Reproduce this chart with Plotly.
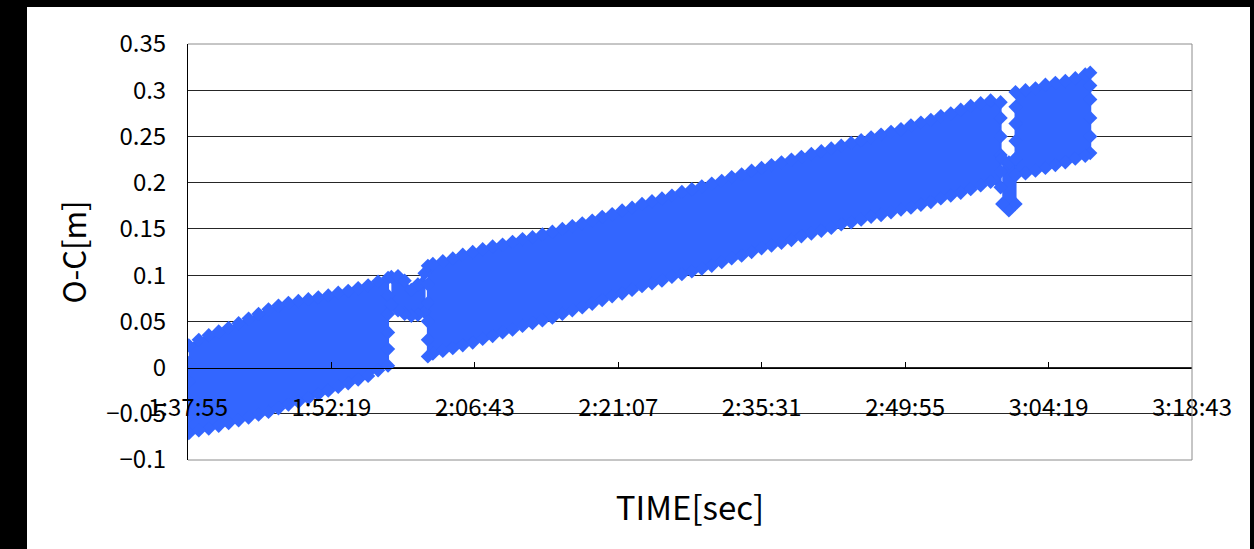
import plotly.graph_objects as go

# ---------------- data ----------------
x_tick_labels = ["1:37:55", "1:52:19", "2:06:43", "2:21:07", "2:35:31", "2:49:55", "3:04:19", "3:18:43"]
y_tick_values = [-0.1, -0.05, 0, 0.05, 0.1, 0.15, 0.2, 0.25, 0.3, 0.35]
y_tick_labels = ["\u22120.1", "\u22120.05", "0", "0.05", "0.1", "0.15", "0.2", "0.25", "0.3", "0.35"]

# band of O-C points: upper / lower edge of the point cloud at each time,
# plus the points seen along the start / end of each run (bottom -> top)
block1_time = ["1:38:00", "1:39:00", "1:40:00", "1:41:00", "1:42:00", "1:43:00", "1:44:00",
               "1:45:00", "1:46:00", "1:47:00", "1:48:00", "1:49:00", "1:50:00", "1:51:00",
               "1:52:00", "1:53:00", "1:54:00", "1:55:00", "1:56:00", "1:57:00", "1:58:00"]
block1_upper = [0.024, 0.030, 0.035, 0.039, 0.043, 0.048, 0.053, 0.058, 0.063, 0.067, 0.070,
                0.072, 0.074, 0.076, 0.078, 0.081, 0.083, 0.086, 0.089, 0.093, 0.097]
block1_lower = [-0.071, -0.068, -0.066, -0.063, -0.060, -0.057, -0.054, -0.051, -0.048, -0.044, -0.040,
                -0.037, -0.033, -0.029, -0.025, -0.021, -0.017, -0.013, -0.009, -0.003, 0.002]
block1_start = [-0.053, -0.035, -0.015, 0.005]
block1_end = [0.020, 0.038, 0.058, 0.078]

dip1_time = ["1:58:20", "1:59:00", "1:59:40", "2:00:20", "2:01:00", "2:01:40"]
dip1_upper = [0.098, 0.099, 0.094, 0.084, 0.090, 0.102]
dip1_lower = [0.068, 0.062, 0.058, 0.056, 0.057, 0.060]

block2_time = ["2:02:00", "2:02:30", "2:03:30", "2:04:30", "2:05:30", "2:06:30", "2:07:30", "2:08:30",
               "2:09:30", "2:10:30", "2:11:30", "2:12:30", "2:13:30", "2:14:30", "2:15:30", "2:16:30",
               "2:17:30", "2:18:30", "2:19:30", "2:20:30", "2:21:30", "2:22:30", "2:23:30", "2:24:30",
               "2:25:30", "2:26:30", "2:27:30", "2:28:30", "2:29:30", "2:30:30", "2:31:30", "2:32:30",
               "2:33:30", "2:34:30", "2:35:30", "2:36:30", "2:37:30", "2:38:30", "2:39:30", "2:40:30",
               "2:41:30", "2:42:30", "2:43:30", "2:44:30", "2:45:30", "2:46:30", "2:47:30", "2:48:30",
               "2:49:30", "2:50:30", "2:51:30", "2:52:30", "2:53:30", "2:54:30", "2:55:30", "2:56:30",
               "2:57:30", "2:58:30", "2:59:30"]
block2_upper = [0.110, 0.112, 0.115, 0.118, 0.122, 0.125, 0.128, 0.131, 0.133, 0.136, 0.139, 0.141,
                0.144, 0.147, 0.150, 0.153, 0.156, 0.159, 0.163, 0.166, 0.170, 0.173, 0.177, 0.180,
                0.183, 0.186, 0.190, 0.193, 0.196, 0.199, 0.202, 0.206, 0.209, 0.213, 0.216, 0.219,
                0.222, 0.225, 0.228, 0.231, 0.234, 0.237, 0.240, 0.243, 0.246, 0.249, 0.252, 0.255,
                0.258, 0.262, 0.265, 0.268, 0.272, 0.275, 0.279, 0.283, 0.286, 0.289, 0.287]
block2_lower = [0.012, 0.015, 0.018, 0.021, 0.024, 0.027, 0.031, 0.034, 0.038, 0.041, 0.045, 0.048,
                0.051, 0.054, 0.058, 0.062, 0.065, 0.069, 0.073, 0.077, 0.080, 0.084, 0.088, 0.091,
                0.094, 0.098, 0.101, 0.104, 0.107, 0.110, 0.114, 0.118, 0.121, 0.125, 0.129, 0.132,
                0.135, 0.138, 0.142, 0.145, 0.148, 0.151, 0.155, 0.157, 0.160, 0.163, 0.165, 0.168,
                0.171, 0.173, 0.176, 0.179, 0.183, 0.186, 0.189, 0.193, 0.197, 0.201, 0.195]
block2_start = [0.030, 0.050, 0.070, 0.090]
block2_end = [0.212, 0.230, 0.250, 0.270]

dip2_time = ["2:59:40", "3:00:20", "3:01:00"]
dip2_upper = [0.226, 0.222, 0.226]
dip2_lower = [0.177, 0.170, 0.177]

block3_time = ["3:01:00", "3:02:00", "3:03:00", "3:04:00", "3:05:00", "3:06:00", "3:07:00", "3:08:00", "3:08:30"]
block3_upper = [0.298, 0.300, 0.302, 0.306, 0.308, 0.310, 0.313, 0.317, 0.319]
block3_lower = [0.208, 0.210, 0.213, 0.216, 0.219, 0.222, 0.226, 0.229, 0.232]
block3_start = [0.226, 0.245, 0.264, 0.282]
block3_end = [0.250, 0.270, 0.290, 0.305]

# ---------------- helpers ----------------
def hms(s):
    h, m, sec = (int(v) for v in s.split(":"))
    return h * 3600 + m * 60 + sec

blocks = [
    (block1_time, block1_upper, block1_lower, block1_start, block1_end),
    (dip1_time, dip1_upper, dip1_lower, [], []),
    (block2_time, block2_upper, block2_lower, block2_start, block2_end),
    (dip2_time, dip2_upper, dip2_lower, [], []),
    (block3_time, block3_upper, block3_lower, block3_start, block3_end),
]

xs, ys = [], []
for times, up, lo, start, end in blocks:
    t = [hms(s) for s in times]
    xs += t + [t[-1]] * len(end) + t[::-1] + [t[0]] * len(start) + [None]
    ys += list(up) + list(end)[::-1] + list(lo)[::-1] + list(start) + [None]

BLUE = "#3366FF"
FONT = "Noto Sans CJK JP, Noto Sans, sans-serif"

fig = go.Figure()
fig.add_trace(go.Scatter(
    x=xs, y=ys, mode="lines+markers", fill="toself",
    fillcolor=BLUE, line=dict(color=BLUE, width=2),
    marker=dict(symbol="diamond", size=11, color=BLUE, line=dict(width=0)),
    showlegend=False, hoverinfo="skip",
))

x_tick_values = [hms(s) for s in x_tick_labels]
ymin, ymax = y_tick_values[0], y_tick_values[-1]
zero_pos = (0 - ymin) / (ymax - ymin)

fig.update_layout(
    width=1254, height=549,
    margin=dict(l=188, r=62, t=44, b=89),
    paper_bgcolor="black", plot_bgcolor="white",
    font=dict(family=FONT, color="black"),
    xaxis=dict(
        range=[x_tick_values[0], x_tick_values[-1]],
        tickmode="array", tickvals=x_tick_values, ticktext=x_tick_labels,
        tickfont=dict(size=24, family=FONT, color="black"),
        showgrid=False, zeroline=False,
        showline=True, linecolor="black", linewidth=1,
        ticks="inside", ticklen=6, tickcolor="black",
        anchor="free", position=zero_pos,
        ticklabelstandoff=19,
        title=dict(text="TIME[sec]", font=dict(size=33, family=FONT, color="black"), standoff=74),
    ),
    yaxis=dict(
        range=[ymin, ymax],
        tickmode="array", tickvals=y_tick_values, ticktext=y_tick_labels,
        tickfont=dict(size=24, family=FONT, color="black"),
        showgrid=True, gridcolor="#262626", gridwidth=1,
        zeroline=False,
        showline=True, linecolor="black", linewidth=1,
        ticks="", ticklabelstandoff=16,
        title=dict(text="O-C[m]", font=dict(size=31, family=FONT, color="black"), standoff=10),
    ),
    shapes=[
        # white sheet of the screenshot
        dict(type="rect", xref="paper", yref="paper",
             x0=(27 - 188) / 1004, x1=(1250 - 188) / 1004,
             y0=-0.25, y1=(460 - 7) / 416,
             fillcolor="white", line=dict(width=0), layer="below"),
        # grey plot border (top, right, bottom)
        dict(type="line", xref="paper", yref="paper", x0=0, x1=1, y0=1, y1=1,
             line=dict(color="#8c8c8c", width=1), layer="above"),
        dict(type="line", xref="paper", yref="paper", x0=1, x1=1, y0=0, y1=1,
             line=dict(color="#8c8c8c", width=1), layer="above"),
        dict(type="line", xref="paper", yref="paper", x0=0, x1=1, y0=0, y1=0,
             line=dict(color="#8c8c8c", width=1), layer="above"),
    ],
)

fig.write_html("out.html")
